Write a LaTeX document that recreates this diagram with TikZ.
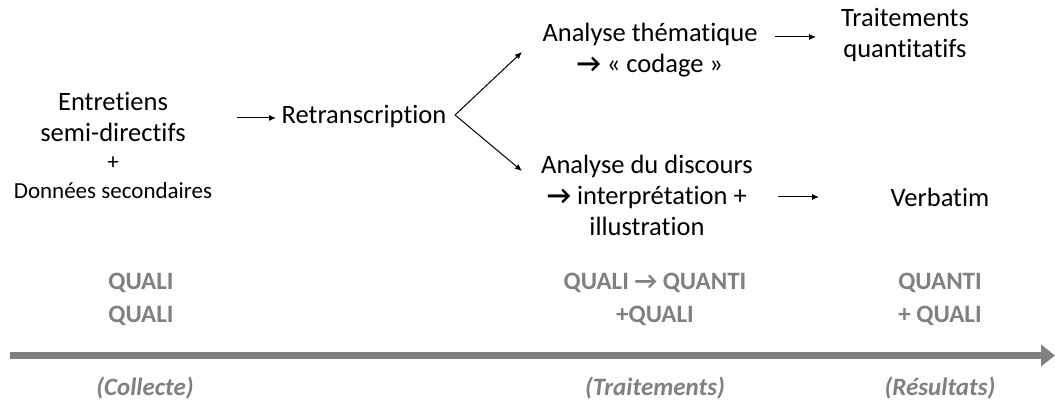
\documentclass[tikz,border=0pt]{standalone}
\usepackage{fontspec}
\setmainfont{Carlito}[RawFeature=-liga]
\usetikzlibrary{arrows.meta}
\definecolor{axisgray}{HTML}{808080}
\newcommand{\thickarr}{{\bfseries →}}
\begin{document}
\begin{tikzpicture}[x=1pt,y=-1pt,
  txt/.style={align=center,inner sep=0pt,font=\fontsize{26.5}{31}\selectfont},
  small/.style={align=center,inner sep=0pt,font=\fontsize{23}{27}\selectfont},
  cat/.style={align=center,inner sep=0pt,text=axisgray,font=\bfseries\fontsize{25}{33}\selectfont},
  phase/.style={align=center,inner sep=0pt,text=axisgray,font=\bfseries\itshape\fontsize{25}{30}\selectfont},
  flow/.style={-{Latex[length=7pt,width=6pt]},line width=1pt}]
\useasboundingbox (0,0) rectangle (1055,403);
% left group
\node[txt] (ent) at (113,117) {Entretiens\\semi-directifs};
\node[small] (plus) at (113,163) {+};
\node[small] (don) at (113,191) {Données secondaires};
\node[txt] (ret) at (364,117) {Retranscription};
\coordinate (a1s) at (237,118);
\coordinate (a1e) at (276,118);
\draw[flow] (a1s) -- (a1e);
% branch
\coordinate (v) at (455,115);
\coordinate (up) at (522,52);
\coordinate (dn) at (522,171);
\draw[flow] (v) -- (up);
\draw[flow] (v) -- (dn);
% upper
\node[txt] (them) at (650,50) {Analyse thématique\\\thickarr{} « codage »};
\node[txt] (trait) at (905,35) {Traitements\\quantitatifs};
\coordinate (a2s) at (775,37);
\coordinate (a2e) at (816,37);
\draw[flow] (a2s) -- (a2e);
% lower
\node[txt] (disc) at (647,195) {Analyse du discours\\\thickarr{} interprétation +\\illustration};
\node[txt] (verb) at (940,197) {Verbatim};
\coordinate (a3s) at (778,197);
\coordinate (a3e) at (819,197);
\draw[flow] (a3s) -- (a3e);
% categories
\node[cat] (c1) at (141,299) {QUALI\\QUALI};
\node[cat] (c2) at (655,299) {QUALI → QUANTI\\+QUALI};
\node[cat] (c3) at (940,299) {QUANTI\\+ QUALI};
% axis
\coordinate (ax0) at (10,355.5);
\coordinate (ax1) at (1055,355.5);
\draw[axisgray,line width=7pt,-{Triangle[length=14pt,width=21pt]}] (ax0) -- (ax1);
% phases
\node[phase] (p1) at (145,388) {(Collecte)};
\node[phase] (p2) at (655,388) {(Traitements)};
\node[phase] (p3) at (940,388) {(Résultats)};
\end{tikzpicture}
\end{document}
